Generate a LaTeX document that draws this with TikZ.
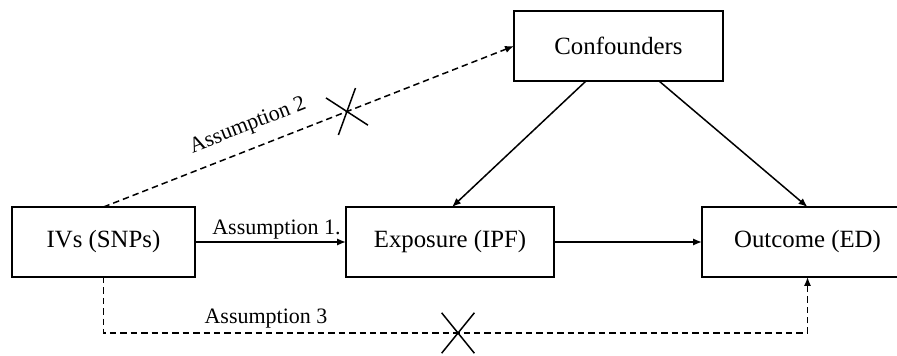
\documentclass[tikz,border=0pt]{standalone}
\usepackage{fontspec}
\setmainfont{Liberation Serif}
\usetikzlibrary{arrows.meta,calc}
\begin{document}
\begin{tikzpicture}[x=0.5pt,y=-0.5pt,
  box/.style={draw,line width=1pt,rectangle,minimum height=35pt,inner sep=0pt,outer sep=0pt,font=\fontsize{12.4}{14}\selectfont},
  arr/.style={line width=0.75pt,-{Latex[length=4.5pt,width=3.6pt]}},
  darr/.style={arr,dash pattern=on 3.2pt off 2pt},
  lab/.style={font=\fontsize{11}{13}\selectfont,inner sep=0pt},
  xmark/.style={line width=0.75pt}]
\useasboundingbox (0,0) rectangle (897,356);
\node[box,minimum width=104.5pt] (conf) at (618.5,46) {Confounders};
\node[box,minimum width=91.5pt] (ivs) at (103.5,242) {IVs (SNPs)};
\node[box,minimum width=104pt] (exp) at (450,242) {Exposure (IPF)};
\node[box,minimum width=105.5pt] (out) at (807.5,242) {Outcome (ED)};
\node[lab,anchor=base] (a1) at (276.5,235) {Assumption 1.};
\node[lab,rotate=21.4] (a2) at (248,126) {Assumption 2};
\node[lab,anchor=base] (a3) at (266,324) {Assumption 3};
\draw[arr] (ivs.east) -- (exp.west);
\draw[arr] (exp.east) -- (out.west);
\draw[arr] ([xshift=-16.25pt]conf.south) -- ([xshift=1pt]exp.north);
\draw[arr] ([xshift=20.25pt]conf.south) -- (out.north);
\draw[darr] (ivs.north) -- coordinate[pos=0.593] (x2) (conf.west);
\draw[xmark] ([shift={(-33:12.5pt)}]x2) -- ([shift={(147:12.5pt)}]x2);
\draw[xmark] ([shift={(70:12.5pt)}]x2) -- ([shift={(250:12.5pt)}]x2);
\draw[darr] (ivs.south) -- ++(0,56) coordinate (b1) -| (out.south);
\coordinate (x3) at (458,333);
\draw[xmark] ([shift={(51:13pt)}]x3) -- ([shift={(231:13pt)}]x3);
\draw[xmark] ([shift={(129:13pt)}]x3) -- ([shift={(309:13pt)}]x3);
\end{tikzpicture}
\end{document}
